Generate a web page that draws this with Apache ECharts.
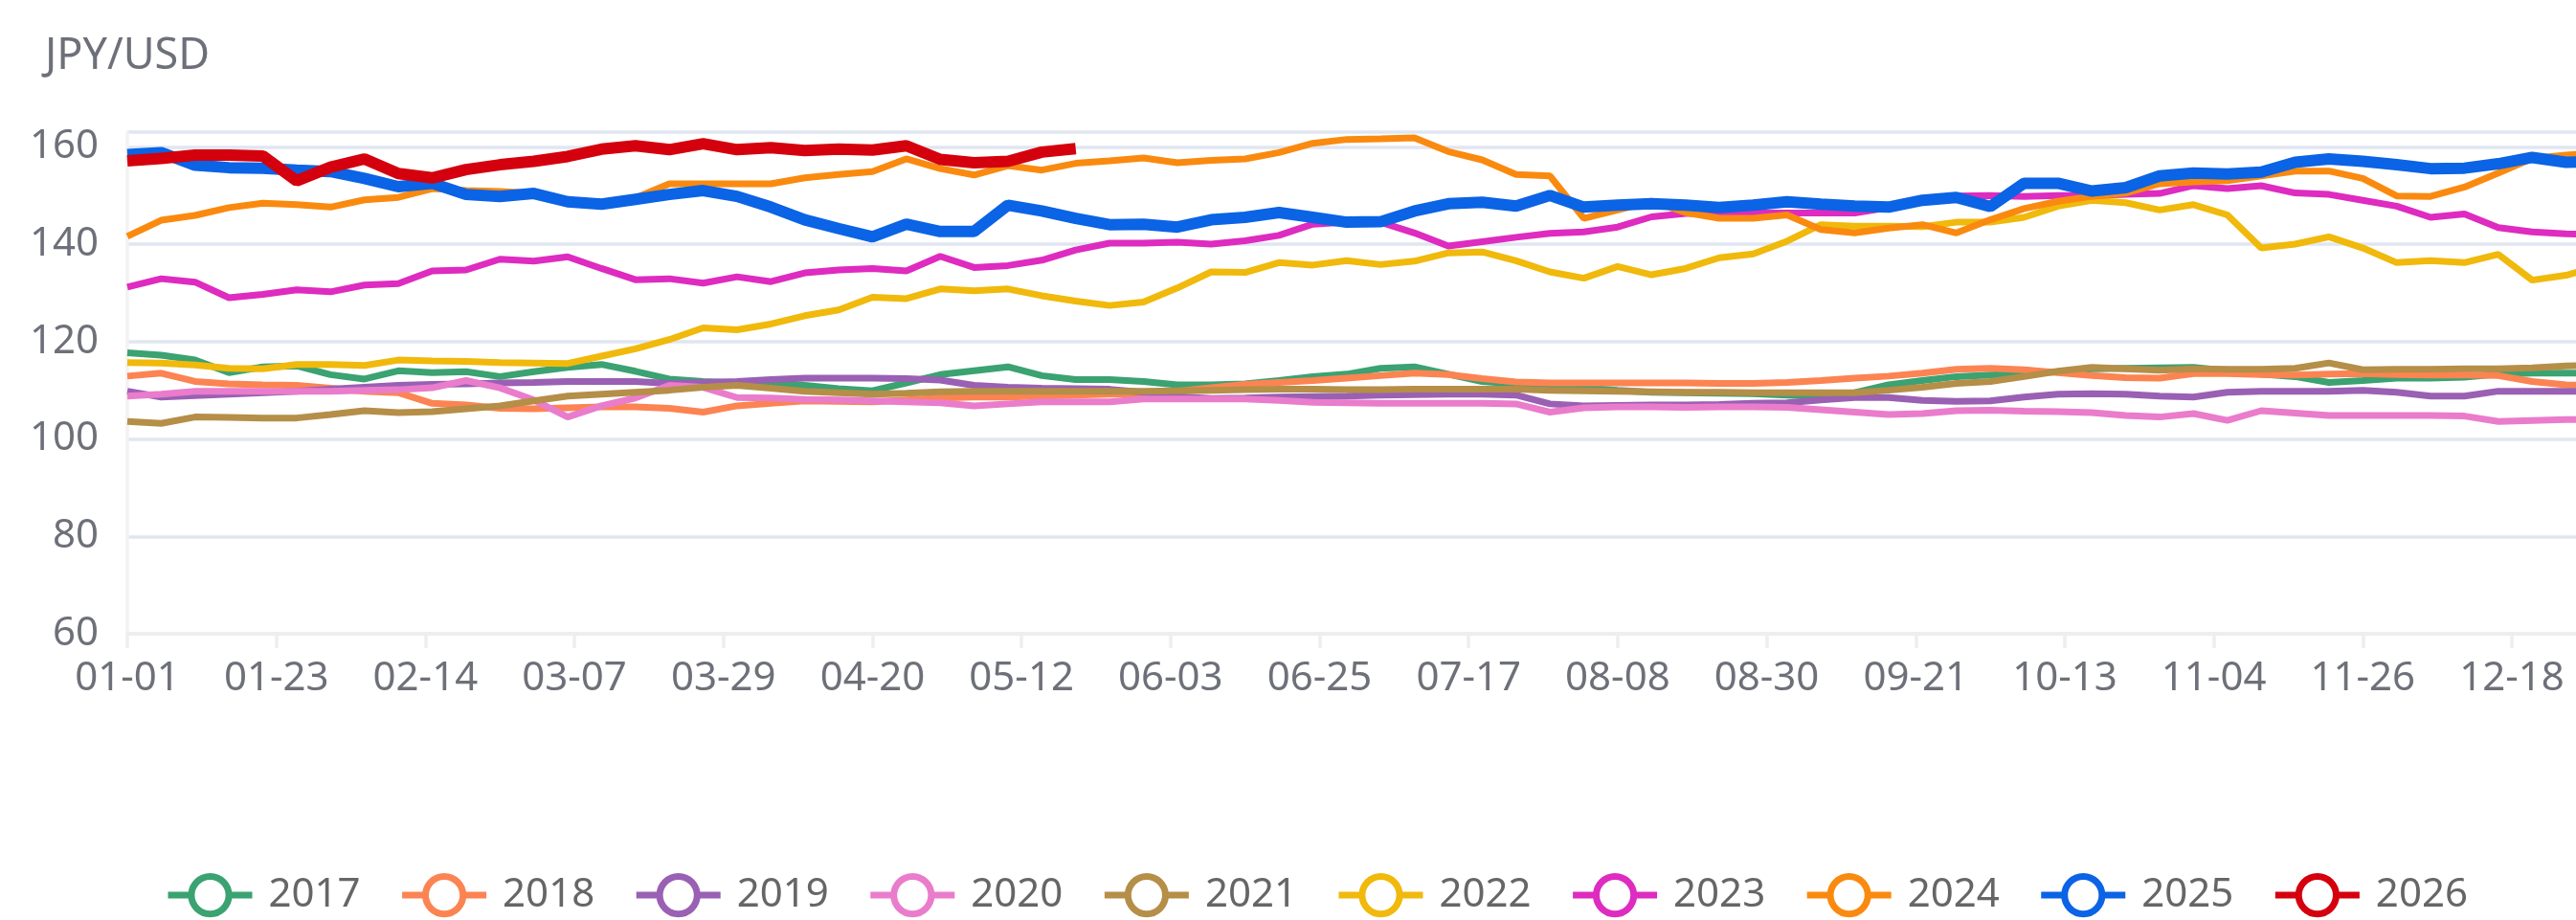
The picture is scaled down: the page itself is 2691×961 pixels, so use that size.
<!DOCTYPE html>
<html>
<head>
<meta charset="utf-8">
<title>JPY/USD by year</title>
<script src="https://cdn.jsdelivr.net/npm/echarts@6/dist/echarts.min.js"></script>
<style>
  html, body { margin: 0; padding: 0; background: #ffffff; overflow: hidden; }
  #chart { width: 2691px; height: 961px; }
</style>
</head>
<body>
<div id="chart"></div>
<script>
// Daily calendar (leap year so every MM-DD exists), values sampled every STEP days.
const STEP = 5;
const monthDays = [31, 29, 31, 30, 31, 30, 31, 31, 30, 31, 30, 31];

const years = ['2017', '2018', '2019', '2020', '2021', '2022', '2023', '2024', '2025', '2026'];
const colors = ['#3BA272', '#FC8452', '#9A60B4', '#EA7CCC', '#B58E48',
                '#F0B90B', '#DE2BC0', '#FA8A0F', '#0B63E5', '#D4000D'];

const y2017 = [117.7,117.2,116.2,113.6,114.8,115.0,113.2,112.3,114.0,113.6,
               113.8,112.8,113.8,114.7,115.3,113.9,112.3,111.8,111.5,111.5,
               111.0,110.3,109.9,111.5,113.2,114.0,114.8,113.0,112.2,112.2,
               111.8,111.1,111.1,111.3,112.0,112.8,113.3,114.5,114.8,113.3,
               111.8,111.3,110.8,110.5,110.0,109.6,109.5,109.4,109.3,109.0,
               108.8,109.5,111.1,112.0,112.8,113.1,113.4,113.8,114.4,114.5,
               114.6,114.7,114.0,113.3,112.8,111.6,112.0,112.5,112.5,112.7,
               113.3,113.5,113.5,113.5];
const y2018 = [112.9,113.5,111.8,111.3,111.1,111.0,110.4,109.8,109.5,107.3,
               107.0,106.3,106.2,106.4,106.6,106.6,106.3,105.5,106.8,107.3,
               107.8,107.7,107.6,108.0,108.4,108.6,108.6,108.8,109.0,109.2,
               109.3,109.8,110.5,111.2,111.6,112.0,112.5,113.0,113.5,113.2,
               112.4,111.7,111.5,111.5,111.5,111.5,111.5,111.4,111.4,111.6,
               112.0,112.5,112.9,113.5,114.3,114.5,114.2,113.6,113.0,112.6,
               112.5,113.4,113.4,113.2,113.1,113.3,113.4,113.2,113.1,113.1,
               113.0,111.8,111.1,111.0];
const y2019 = [109.8,108.6,108.9,109.2,109.5,109.8,110.2,110.6,111.0,111.2,
               111.3,111.5,111.6,111.8,111.8,111.8,111.4,111.6,111.8,112.2,
               112.5,112.5,112.5,112.4,112.1,111.0,110.6,110.4,110.3,110.2,
               109.6,108.7,108.3,108.4,108.6,108.7,108.8,109.0,109.1,109.2,
               109.2,109.0,107.2,106.8,106.9,107.0,107.0,107.1,107.3,107.4,
               108.0,108.5,108.5,107.9,107.7,107.8,108.6,109.2,109.3,109.2,
               108.8,108.6,109.6,109.8,109.8,109.8,110.0,109.6,108.8,108.8,
               109.8,109.8,109.8,109.8];
const y2020 = [108.8,109.2,109.8,109.8,109.8,109.8,109.8,110.0,110.1,110.5,
               112.0,110.5,108.0,104.5,106.8,108.4,111.0,110.6,108.5,108.4,
               108.1,108.0,107.8,107.6,107.4,106.8,107.2,107.6,107.6,107.6,
               108.2,108.2,108.2,108.2,107.9,107.5,107.4,107.3,107.3,107.3,
               107.3,107.2,105.5,106.4,106.6,106.6,106.5,106.6,106.6,106.5,
               106.0,105.5,105.0,105.2,105.8,105.9,105.7,105.6,105.4,104.8,
               104.5,105.2,103.8,105.8,105.3,104.8,104.8,104.8,104.8,104.7,
               103.6,103.8,104.0,104.0];
const y2021 = [103.6,103.2,104.5,104.4,104.3,104.3,105.0,105.8,105.4,105.6,
               106.2,106.8,107.8,108.8,109.2,109.6,110.0,110.6,111.0,110.4,
               109.8,109.5,109.2,109.4,109.7,109.8,109.8,109.8,109.8,109.8,
               109.8,109.9,110.0,110.1,110.2,110.2,110.1,110.1,110.2,110.2,
               110.2,110.2,110.0,109.9,109.8,109.7,109.6,109.6,109.5,109.5,
               109.5,109.5,110.0,110.6,111.4,111.8,112.8,113.9,114.7,114.4,
               114.1,114.4,114.3,114.3,114.5,115.6,114.2,114.3,114.3,114.4,
               114.4,114.6,115.0,115.1];
const y2022 = [115.7,115.6,115.2,114.5,114.4,115.3,115.3,115.1,116.2,116.0,
               115.9,115.7,115.6,115.5,117.0,118.5,120.4,122.8,122.4,123.6,
               125.3,126.5,129.1,128.8,130.8,130.4,130.8,129.4,128.3,127.4,
               128.1,131.0,134.3,134.2,136.2,135.7,136.6,135.8,136.5,138.2,
               138.4,136.6,134.3,133.0,135.4,133.7,135.0,137.2,138.0,140.6,
               144.0,143.7,143.7,143.6,144.5,144.5,145.5,147.8,149.0,148.5,
               147.0,148.1,146.0,139.2,140.0,141.5,139.2,136.2,136.6,136.2,
               137.9,132.6,133.6,135.5];
const y2023 = [131.2,132.9,132.2,129.0,129.7,130.6,130.2,131.6,131.9,134.5,
               134.7,136.9,136.5,137.4,135.0,132.7,132.9,132.0,133.3,132.3,
               134.1,134.7,135.0,134.5,137.5,135.2,135.6,136.7,138.8,140.2,
               140.2,140.4,140.0,140.7,141.8,144.1,144.5,144.5,142.3,139.6,
               140.5,141.4,142.2,142.5,143.5,145.6,146.3,146.4,146.4,146.4,
               146.4,146.4,147.5,148.8,149.9,150.0,149.8,150.0,150.0,150.2,
               150.4,152.0,151.4,152.0,150.5,150.2,149.0,147.8,145.5,146.2,
               143.4,142.5,142.1,142.0];
const y2024 = [141.6,144.9,145.9,147.5,148.4,148.1,147.6,149.1,149.6,151.4,
               151.0,150.8,150.4,148.8,147.8,149.5,152.4,152.4,152.4,152.4,
               153.6,154.3,154.9,157.5,155.5,154.2,156.1,155.2,156.6,157.1,
               157.7,156.7,157.2,157.5,158.8,160.7,161.5,161.6,161.8,159.0,
               157.3,154.3,154.0,145.3,147.0,148.8,146.5,145.3,145.3,146.0,
               143.0,142.3,143.3,144.0,142.3,145.0,147.3,148.8,149.8,150.5,
               152.4,152.8,153.0,154.0,155.0,155.0,153.5,149.9,149.8,151.7,
               154.6,157.6,158.3,158.8];
const y2025 = [158.4,158.8,156.2,155.7,155.6,155.2,154.9,153.5,151.8,152.5,
               150.2,149.8,150.4,148.7,148.2,149.2,150.2,151.0,149.8,147.6,
               145.0,143.2,141.5,144.1,142.6,142.6,148.0,146.8,145.3,144.0,
               144.1,143.5,145.0,145.5,146.5,145.5,144.5,144.6,146.8,148.3,
               148.6,147.8,150.0,147.6,148.0,148.3,148.0,147.5,148.0,148.7,
               148.2,147.8,147.6,149.0,149.6,147.7,152.5,152.5,150.9,151.6,
               154.0,154.6,154.4,154.8,156.8,157.5,157.0,156.3,155.5,155.6,
               156.5,157.8,156.8,157.0];
const y2026 = [157.1,157.6,158.3,158.3,158.1,153.0,155.8,157.5,154.5,153.6,
               155.3,156.3,157.0,158.0,159.5,160.2,159.4,160.6,159.4,159.8,
               159.2,159.5,159.3,160.2,157.4,156.7,157.0,158.9,159.6];

const yearValues = [y2017, y2018, y2019, y2020, y2021, y2022, y2023, y2024, y2025, y2026];
const lineWidths = [7, 7, 7, 7, 7, 7, 7, 7, 12, 12];

// MM-DD labels for the x axis
const days = [];
monthDays.forEach(function (n, m) {
  for (let d = 1; d <= n; d++) {
    days.push(String(m + 1).padStart(2, '0') + '-' + String(d).padStart(2, '0'));
  }
});

const FONT = 'Noto Sans';
const AXIS_TEXT = '#6E7079';

const series = years.map(function (name, i) {
  return {
    name: name,
    type: 'line',
    data: yearValues[i].map(function (v, k) { return [k * STEP, v]; }),
    showSymbol: false,
    symbol: 'circle',
    smooth: false,
    lineStyle: { width: lineWidths[i], color: colors[i] },
    itemStyle: { color: colors[i] },
    emphasis: { disabled: true },
    animation: false
  };
});

const chart = echarts.init(document.getElementById('chart'), null, { renderer: 'canvas' });
chart.setOption({
  backgroundColor: '#ffffff',
  animation: false,
  textStyle: { fontFamily: FONT },
  // the plot runs past the right edge of the page, so the grid is not kept inside it
  grid: { left: 133, top: 138, width: 2583, height: 524, containLabel: false, outerBoundsMode: 'none' },
  legend: {
    left: 172,
    top: 912,
    padding: 0,
    itemWidth: 88,
    itemHeight: 49,
    itemGap: 40,
    textStyle: { fontSize: 42, color: '#666666', fontFamily: FONT, padding: [0, 0, 0, 12] },
    data: years.map(function (name, i) {
      return {
        name: name,
        itemStyle: { color: '#ffffff', borderColor: colors[i], borderWidth: 7 },
        lineStyle: { color: colors[i], width: 7 }
      };
    })
  },
  xAxis: {
    type: 'category',
    data: days,
    boundaryGap: false,
    axisLine: { show: true, lineStyle: { color: '#eeeeee', width: 3.5 } },
    axisTick: { show: true, interval: 21, length: 15, lineStyle: { color: '#eeeeee', width: 3.5 } },
    axisLabel: { interval: 21, fontSize: 42, color: AXIS_TEXT, margin: 26, fontFamily: FONT },
    splitLine: { show: false }
  },
  yAxis: {
    type: 'value',
    min: 60,
    max: 163,
    interval: 20,
    name: 'JPY/USD',
    nameLocation: 'end',
    nameGap: 56,
    nameTextStyle: { fontSize: 45, color: AXIS_TEXT, fontFamily: FONT },
    axisLine: { show: true, lineStyle: { color: '#f2f2f2', width: 3.5 } },
    axisTick: { show: false },
    axisLabel: { fontSize: 42, color: AXIS_TEXT, margin: 30, showMaxLabel: false, fontFamily: FONT },
    splitLine: { show: true, lineStyle: { color: '#E0E6F1', width: 3.5 } }
  },
  series: series
});
</script>
</body>
</html>
